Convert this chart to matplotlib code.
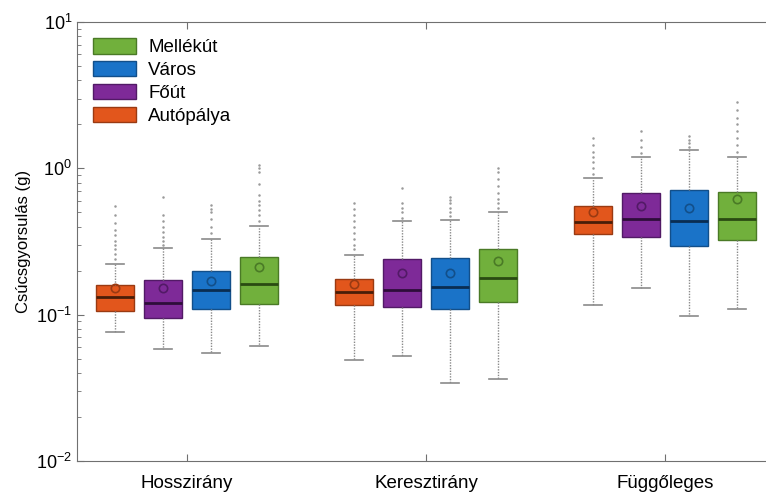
import numpy as np
import matplotlib
matplotlib.use("Agg")
import matplotlib.pyplot as plt
from matplotlib.patches import Patch

plt.rcParams['font.family'] = ['Liberation Sans', 'DejaVu Sans']
plt.rcParams['mathtext.fontset'] = 'custom'
plt.rcParams['mathtext.rm'] = 'Liberation Sans'
plt.rcParams['mathtext.it'] = 'Liberation Sans:italic'

directions = ["Hosszirány", "Keresztirány", "Függőleges"]
road_types = ["Autópálya", "Főút", "Város", "Mellékút"]
road_colors = ["#E2561C", "#7E2A98", "#1A73C8", "#71B03C"]
road_edges = ["#9A3A12", "#521A66", "#124F8A", "#4A7A26"]
median_colors = ["#4A1D08", "#2E0D3A", "#0A2D52", "#2A4A12"]

# per direction: one value per road type (Autópálya, Főút, Város, Mellékút)
whislo = [[0.0765, 0.058, 0.055, 0.061],
          [0.049, 0.052, 0.034, 0.0366],
          [0.117, 0.153, 0.098, 0.110]]
q1 = [[0.106, 0.095, 0.110, 0.119],
      [0.117, 0.113, 0.110, 0.123],
      [0.355, 0.340, 0.296, 0.325]]
med = [[0.133, 0.120, 0.148, 0.161],
       [0.142, 0.148, 0.154, 0.179],
       [0.431, 0.452, 0.438, 0.450]]
q3 = [[0.160, 0.173, 0.198, 0.246],
      [0.176, 0.242, 0.243, 0.280],
      [0.556, 0.681, 0.707, 0.688]]
whishi = [[0.222, 0.285, 0.327, 0.405],
          [0.255, 0.434, 0.443, 0.500],
          [0.863, 1.19, 1.33, 1.19]]
means = [[0.151, 0.151, 0.171, 0.211],
         [0.161, 0.192, 0.192, 0.231],
         [0.502, 0.552, 0.535, 0.614]]
outliers = [
    [[0.24, 0.26, 0.28, 0.30, 0.32, 0.35, 0.38, 0.42, 0.48, 0.55],
     [0.30, 0.32, 0.34, 0.37, 0.40, 0.44, 0.48, 0.64],
     [0.36, 0.40, 0.45, 0.50, 0.53, 0.56],
     [0.44, 0.48, 0.52, 0.56, 0.60, 0.66, 0.78, 0.95, 1.0, 1.05]],
    [[0.28, 0.30, 0.33, 0.36, 0.40, 0.44, 0.48, 0.53, 0.58],
     [0.46, 0.50, 0.54, 0.58, 0.73],
     [0.47, 0.50, 0.54, 0.58, 0.61, 0.64],
     [0.54, 0.58, 0.62, 0.68, 0.76, 0.85, 0.95, 1.01]],
    [[0.92, 1.0, 1.1, 1.2, 1.3, 1.45, 1.62],
     [1.28, 1.40, 1.55, 1.80],
     [1.40, 1.48, 1.56, 1.66],
     [1.3, 1.45, 1.6, 1.8, 2.0, 2.2, 2.5, 2.85]],
]

fig = plt.figure(figsize=(7.66, 4.97), dpi=100)
ax = fig.add_axes([0.1005, 0.0724, 0.905, 0.8833])

spacing = 0.2
width = 0.16
for d in range(len(directions)):
    for r in range(len(road_types)):
        pos = d + 1 + (r - 1.5) * spacing
        stats = [dict(whislo=whislo[d][r], q1=q1[d][r], med=med[d][r],
                      q3=q3[d][r], whishi=whishi[d][r], mean=means[d][r],
                      fliers=outliers[d][r])]
        ax.bxp(stats, positions=[pos], widths=width, capwidths=0.075,
               patch_artist=True, showmeans=True, manage_ticks=False,
               boxprops=dict(facecolor=road_colors[r], edgecolor=road_edges[r], linewidth=1),
               medianprops=dict(color=median_colors[r], linewidth=2),
               whiskerprops=dict(color="#8a8a8a", linestyle=(0, (1, 1)), linewidth=1),
               capprops=dict(color="#8a8a8a", linewidth=1.2),
               flierprops=dict(marker='o', markersize=1.8, markerfacecolor="#9a9a9a",
                               markeredgecolor="none"),
               meanprops=dict(marker='o', markersize=6, markerfacecolor="none",
                              markeredgecolor=road_edges[r], markeredgewidth=1.2))

ax.set_yscale('log')
ax.set_ylim(0.01, 10)
ax.set_xlim(0.54, 3.44)
ax.set_xticks([1, 2, 3])
ax.set_xticklabels(directions, fontsize=13.5)
ax.set_ylabel("Csúcsgyorsulás (g)", fontsize=12)

for s in ax.spines.values():
    s.set_color("#707070")
ax.spines['right'].set_visible(False)
ax.tick_params(axis='y', which='both', direction='in', colors="#707070",
               labelcolor='black', labelsize=13, left=True, right=False)
ax.tick_params(axis='y', which='major', length=5)
ax.tick_params(axis='y', which='minor', length=3)
ax.tick_params(axis='x', which='both', direction='in', colors="#707070",
               labelcolor='black', top=True, length=5, pad=10)
ax.tick_params(axis='x', which='minor', top=False, bottom=False)

handles = [Patch(facecolor=road_colors[r], edgecolor=road_edges[r], linewidth=1)
           for r in range(len(road_types))][::-1]
ax.legend(handles, road_types[::-1], loc='upper left', frameon=False, fontsize=13.5,
          handlelength=2.3, handleheight=0.9, handletextpad=0.65, labelspacing=0.25,
          bbox_to_anchor=(0.0, 1.0), borderaxespad=0.45)

fig.savefig("out.png", dpi=100)
